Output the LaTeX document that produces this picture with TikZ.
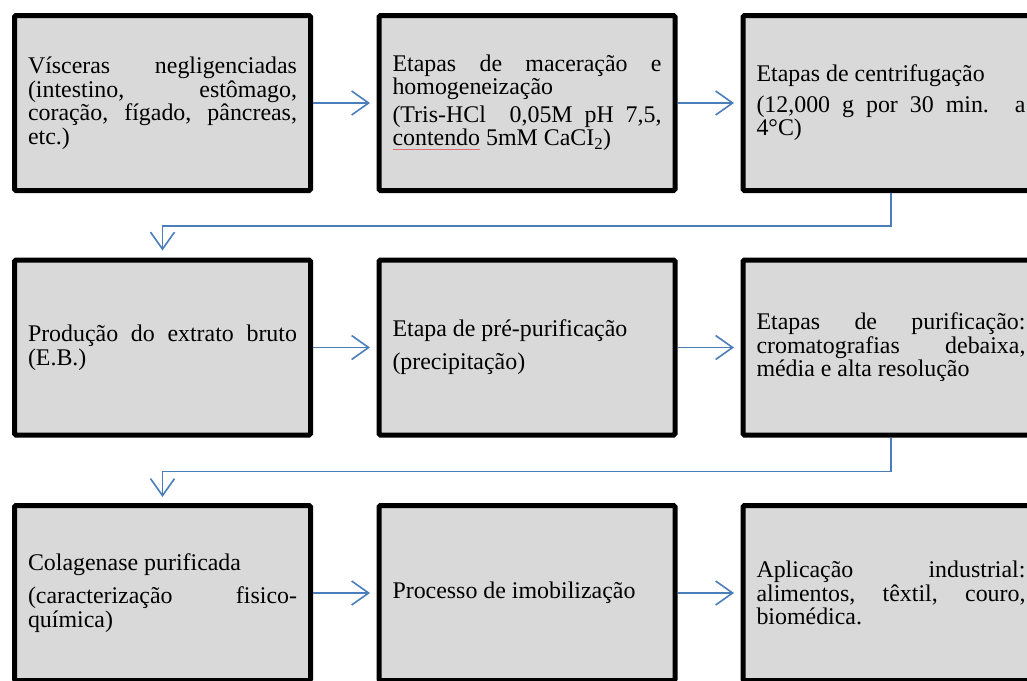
\documentclass[tikz,border=0pt]{standalone}
\usepackage{fontspec}
\setmainfont{Liberation Serif}
\usetikzlibrary{arrows.meta}
\definecolor{boxgray}{HTML}{D9D9D9}
\definecolor{arrowblue}{HTML}{4A7EBB}
\definecolor{spellred}{RGB}{225,110,110}
\hyphenpenalty=10000
\tolerance=10000
\newcommand\pgap[1]{\par\vspace{#1}}
\newsavebox\spellbox
\newcommand\spellmark[1]{\sbox\spellbox{#1}\rlap{\textcolor{spellred}{\rule[-4pt]{\wd\spellbox}{0.9pt}}}\usebox\spellbox}
\tikzset{
  stepbox/.style={draw=black, line width=5pt, fill=boxgray, rounded corners=1.5pt,
    minimum width=296pt, minimum height=175pt, text width=269pt, align=justify,
    inner sep=0pt, font=\fontsize{23.9}{23.5}\selectfont},
  conn/.style={draw=arrowblue, line width=1.6pt,
    -{Straight Barb[length=17pt,width=24pt]}},
}
\begin{document}
\begin{tikzpicture}[x=1pt,y=-1pt]
\useasboundingbox (0,0) rectangle (1027,680);
\clip (0,0) rectangle (1027,680);
% row 1
\node[stepbox] (b1) at (162.5,103) {Vísceras negligenciadas\linebreak (intestino, estômago,\linebreak coração, fígado, pâncreas,\linebreak etc.)};
\node[stepbox] (b2) at (527,103) {Etapas de maceração e\linebreak homogeneização\pgap{4pt} (Tris-HCl\ \ 0,05M pH 7,5,\linebreak \spellmark{contendo} 5mM CaCI\textsubscript{2})};
\node[stepbox] (b3) at (891,103) {Etapas de centrifugação\pgap{7pt} (12,000 g por 30 min. a\linebreak 4°C)};
% row 2
\node[stepbox] (b4) at (162.5,347.5) {Produção do extrato bruto\linebreak (E.B.)};
\node[stepbox] (b5) at (527,347.5) {Etapa de pré-purificação\pgap{9.5pt} (precipitação)};
\node[stepbox] (b6) at (891,347.5) {Etapas de purificação:\linebreak cromatografias debaixa,\linebreak média e alta resolução};
% row 3
\node[stepbox] (b7) at (162.5,593) {Colagenase purificada\pgap{10pt} (caracterização fisico-\linebreak química)};
\node[stepbox] (b8) at (527,593) {Processo de imobilização};
\node[stepbox] (b9) at (891,593) {Aplicação industrial:\linebreak alimentos, têxtil, couro,\linebreak biomédica.};
% connectors
\draw[conn, shorten >=6.5pt] (b1) -- (b2);
\draw[conn, shorten >=6.5pt] (b2) -- (b3);
\draw[conn, shorten >=7pt] (b3.south) -- ++(0,33) -| (b4.north);
\draw[conn, shorten >=6.5pt] (b4) -- (b5);
\draw[conn, shorten >=6.5pt] (b5) -- (b6);
\draw[conn, shorten >=6pt] (b6.south) -- ++(0,34) -| (b7.north);
\draw[conn, shorten >=6.5pt] (b7) -- (b8);
\draw[conn, shorten >=6.5pt] (b8) -- (b9);
\end{tikzpicture}
\end{document}
